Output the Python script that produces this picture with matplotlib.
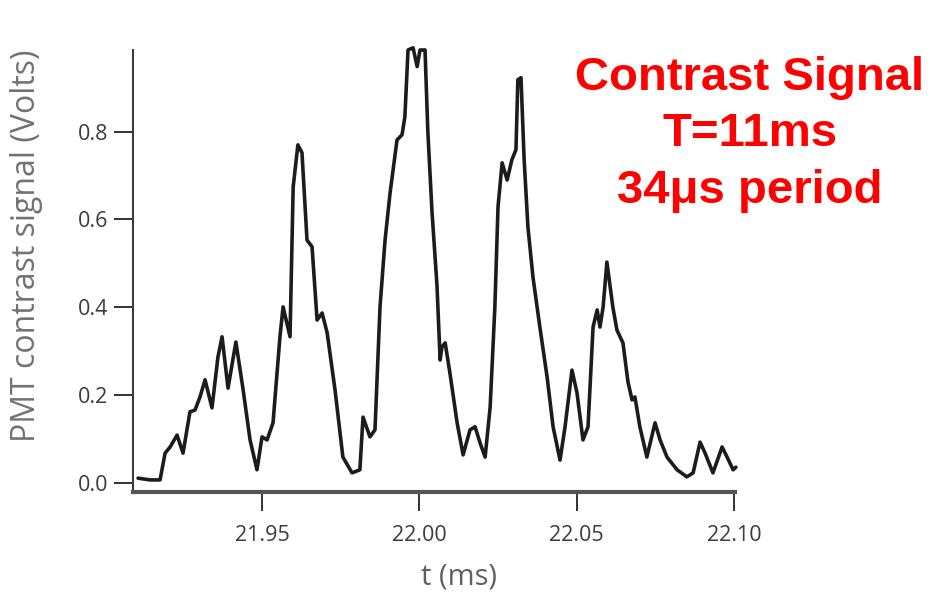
import matplotlib
matplotlib.use("Agg")
from matplotlib import pyplot as plt

# trace: time (ms) and PMT contrast signal (V)
t_ms = [21.9106, 21.9144, 21.9176, 21.9192, 21.9208, 21.9230, 21.9249, 21.9271,
        21.9287, 21.9303, 21.9319, 21.9341, 21.9360, 21.9373, 21.9392, 21.9417,
        21.9440, 21.9462, 21.9484, 21.9500, 21.9516, 21.9535, 21.9557, 21.9567,
        21.9589, 21.9599, 21.9614, 21.9627, 21.9643, 21.9659, 21.9675, 21.9691,
        21.9707, 21.9732, 21.9757, 21.9786, 21.9811, 21.9821, 21.9843, 21.9859,
        21.9875, 21.9891, 21.9907, 21.9929, 21.9945, 21.9954, 21.9964, 21.9980,
        21.9993, 22.0002, 22.0018, 22.0027, 22.0040, 22.0056, 22.0066, 22.0072,
        22.0082, 22.0097, 22.0120, 22.0139, 22.0161, 22.0177, 22.0193, 22.0209,
        22.0225, 22.0240, 22.0250, 22.0263, 22.0279, 22.0294, 22.0307, 22.0313,
        22.0323, 22.0333, 22.0345, 22.0361, 22.0383, 22.0406, 22.0425, 22.0447,
        22.0463, 22.0485, 22.0501, 22.0520, 22.0536, 22.0552, 22.0565, 22.0574,
        22.0584, 22.0596, 22.0615, 22.0628, 22.0647, 22.0663, 22.0676, 22.0685,
        22.0701, 22.0723, 22.0749, 22.0765, 22.0787, 22.0819, 22.0850, 22.0870,
        22.0892, 22.0908, 22.0933, 22.0962, 22.0978, 22.0997, 22.1006]
signal = [0.011, 0.007, 0.007, 0.068, 0.082, 0.109, 0.068, 0.162,
          0.166, 0.196, 0.235, 0.171, 0.287, 0.333, 0.216, 0.321,
          0.212, 0.098, 0.030, 0.105, 0.098, 0.137, 0.333, 0.401,
          0.333, 0.674, 0.770, 0.752, 0.553, 0.538, 0.371, 0.387,
          0.342, 0.212, 0.059, 0.023, 0.030, 0.150, 0.105, 0.121,
          0.401, 0.553, 0.661, 0.781, 0.793, 0.834, 0.986, 0.991,
          0.948, 0.986, 0.986, 0.800, 0.620, 0.450, 0.280, 0.310,
          0.319, 0.251, 0.137, 0.064, 0.121, 0.128, 0.091, 0.059,
          0.173, 0.401, 0.629, 0.729, 0.690, 0.736, 0.759, 0.918,
          0.923, 0.736, 0.583, 0.469, 0.355, 0.241, 0.128, 0.052,
          0.128, 0.257, 0.205, 0.098, 0.128, 0.355, 0.394, 0.355,
          0.401, 0.503, 0.400, 0.348, 0.319, 0.230, 0.189, 0.196,
          0.127, 0.059, 0.137, 0.098, 0.059, 0.030, 0.014, 0.023,
          0.093, 0.068, 0.023, 0.082, 0.059, 0.030, 0.036]

x_ticks = [21.95, 22.00, 22.05, 22.10]
x_tick_labels = ["21.95", "22.00", "22.05", "22.10"]
y_ticks = [0.0, 0.2, 0.4, 0.6, 0.8]
y_tick_labels = ["0.0", "0.2", "0.4", "0.6", "0.8"]
note_lines = ["Contrast Signal", "T=11ms", "34\u03bcs period"]

fig = plt.figure(figsize=(9.32, 5.98), dpi=100)
ax = fig.add_axes([0.1427, 0.1773, 0.6459, 0.7391])

ax.plot(t_ms, signal, color="#1c1c1c", lw=2.6, clip_on=False,
        solid_joinstyle="round", solid_capstyle="round")

ax.set_xlim(21.909, 22.1003)
ax.set_ylim(-0.0205, 0.986)

for s in ["top", "right"]:
    ax.spines[s].set_visible(False)
ax.spines["left"].set_linewidth(1.5)
ax.spines["left"].set_color("#3a3a3a")
ax.spines["bottom"].set_linewidth(3)
ax.spines["bottom"].set_color("#555555")

ax.set_xticks(x_ticks)
ax.set_xticklabels(x_tick_labels, family="Open Sans", fontsize=15.5, color="#3c3c3c")
ax.set_yticks(y_ticks)
ax.set_yticklabels(y_tick_labels, family="Open Sans", fontsize=15.5, color="#3c3c3c")
ax.tick_params(axis="x", direction="out", length=14, width=1.3, color="#222222", pad=10)
ax.tick_params(axis="y", direction="out", length=14, width=1.3, color="#222222", pad=4)

fig.text(27 / 932, 1 - 246 / 598, "PMT contrast signal (Volts)", rotation=90,
         ha="center", va="center", family="Open Sans", fontsize=23, color="#727272")
fig.text(459 / 932, 1 - 577 / 598, "t (ms)", ha="center", va="center",
         family="Open Sans", fontsize=21, color="#606060")

baselines = [90, 146, 203]
for line, yb in zip(note_lines, baselines):
    fig.text(750 / 932, 1 - yb / 598, line, ha="center", va="baseline",
             family="Liberation Sans", weight="bold", fontsize=34, color="#ff0000")

fig.savefig("out.png", dpi=100)
